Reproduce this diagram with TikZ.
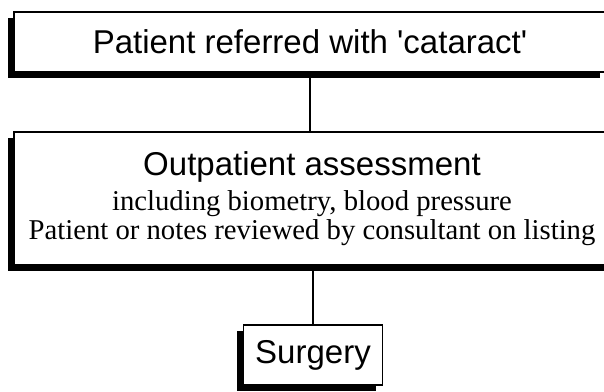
\documentclass[tikz,border=0pt]{standalone}
\usepackage{fontspec}
\setmainfont{Liberation Serif}
\setsansfont{Liberation Sans}
\usetikzlibrary{shadows}
\begin{document}
\begin{tikzpicture}[x = 1pt, y = 1pt,
		stagebox/.style = {draw, line width = 1.3pt, fill = white, inner sep = 0pt, align = center,
			drop shadow = {shadow xshift = -6.5pt, shadow yshift = -6pt, fill = black, opacity = 1}},
		bigtext/.style = {font = \sffamily\fontsize{33}{36}\selectfont},
		link/.style = {line width = 1.3pt}]
	\clip (0,0) rectangle (604,391); %page
	\node[stagebox, bigtext, minimum width = 592pt, minimum height = 60pt] (referral) at (310,349) {Patient referred with \textquotesingle cataract\textquotesingle}; %top box
	\node[stagebox, minimum width = 596pt, minimum height = 133pt, font = \fontsize{28.7}{29}\selectfont] (assessment) at (312,192.5)
		{{\sffamily\fontsize{33}{36}\selectfont Outpatient assessment}\\[6pt]
		including biometry, blood pressure\\
		Patient or notes reviewed by consultant on listing}; %middle box
	\node[stagebox, bigtext, minimum width = 139pt, minimum height = 60pt] (surgery) at (313,36) {Surgery}; %bottom box
	\draw[link] (referral.south) -- (referral.south |- assessment.north);
	\draw[link] (surgery.north |- assessment.south) -- (surgery.north);
\end{tikzpicture}
\end{document}
